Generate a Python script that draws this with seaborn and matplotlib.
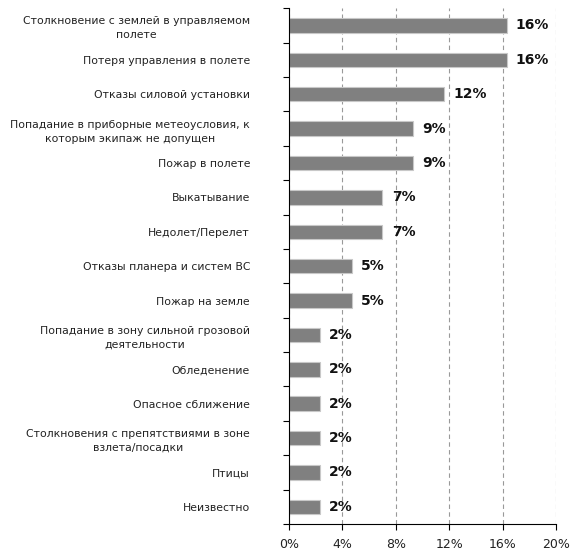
import matplotlib
matplotlib.use("Agg")
import matplotlib.pyplot as plt
import seaborn as sns
import pandas as pd
import numpy as np

categories = [
    "Столкновение с землей в управляемом\nполете",
    "Потеря управления в полете",
    "Отказы силовой установки",
    "Попадание в приборные метеоусловия, к\nкоторым экипаж не допущен",
    "Пожар в полете",
    "Выкатывание",
    "Недолет/Перелет",
    "Отказы планера и систем ВС",
    "Пожар на земле",
    "Попадание в зону сильной грозовой\nдеятельности",
    "Обледенение",
    "Опасное сближение",
    "Столкновения с препятствиями в зоне\nвзлета/посадки",
    "Птицы",
    "Неизвестно",
]
shares = [16.3, 16.3, 11.6, 9.3, 9.3, 7.0, 7.0, 4.7, 4.7, 2.3, 2.3, 2.3, 2.3, 2.3, 2.3]
x_ticks = [0, 4, 8, 12, 16, 20]

df = pd.DataFrame({"cause": categories, "share": shares})

sns.set_theme(style="white")
plt.rcParams['font.family'] = ['DejaVu Sans']

fig = plt.figure(figsize=(5.74, 5.51), dpi=100)
ax = fig.add_axes([0.5035, 0.049, 0.465, 0.936])

sns.barplot(data=df, y="cause", x="share", orient="h", color="#808080",
            saturation=1, width=0.42, edgecolor="#c8c8c8", linewidth=0.8, ax=ax)

for i, v in enumerate(shares):
    ax.text(v + 0.7, i, f"{v:.0f}%", va="center", ha="left",
            fontsize=10, fontweight="bold", color="#111111")

ax.set_xlim(0, 20)
ax.set_ylim(len(categories) - 0.5, -0.5)
ax.set_xticks(x_ticks)
ax.set_xticklabels([f"{t}%" for t in x_ticks], fontsize=9, color="#222222")
ax.set_xlabel("")
ax.set_ylabel("")
ax.tick_params(axis="y", which="major", length=0, left=True, labelsize=7.8,
               labelcolor="#222222", pad=28)
ax.set_yticks(np.arange(-0.5, len(categories), 1), minor=True)
ax.tick_params(axis="y", which="minor", left=True, length=4, color="black",
               width=0.8, direction="out")
ax.tick_params(axis="x", bottom=True, length=4, color="black", width=0.8,
               direction="out", pad=6)
for lab in ax.get_yticklabels():
    lab.set_multialignment("center")
    lab.set_linespacing(1.5)

ax.xaxis.grid(True, linestyle=(0, (4, 3)), color="#999999", linewidth=0.8)
ax.set_axisbelow(True)
for side in ["top", "right"]:
    ax.spines[side].set_visible(False)
for side in ["left", "bottom"]:
    ax.spines[side].set_color("black")
    ax.spines[side].set_linewidth(0.8)

fig.savefig("out.png", dpi=100)
